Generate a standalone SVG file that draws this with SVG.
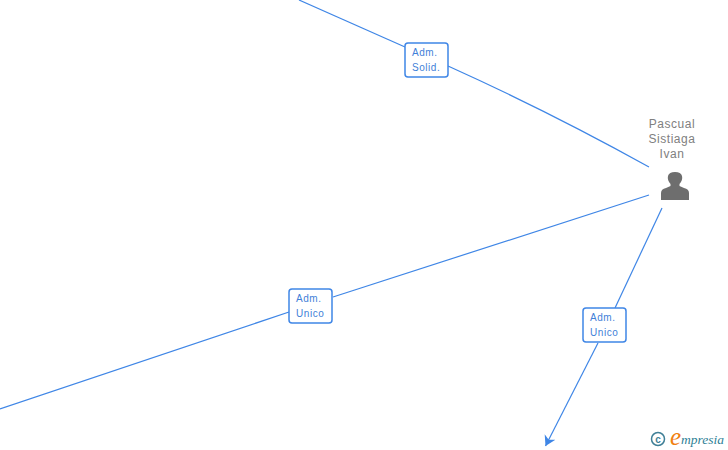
<svg xmlns="http://www.w3.org/2000/svg" width="728" height="450" viewBox="0 0 728 450">
<style>
.c{fill:none;stroke:#3f86e6;stroke-width:1.2}
.b{fill:#fff;stroke:#3f86e6;stroke-width:1.500}
.l{font:10px "Liberation Sans",Arial,sans-serif;fill:#3f7fd8;letter-spacing:.55px}
.n{font:12px "Liberation Sans",Arial,sans-serif;fill:#808080;text-anchor:middle;letter-spacing:.55px}
</style>
<defs>
<marker id="a" markerUnits="userSpaceOnUse" markerWidth="12" markerHeight="14" refX="10" refY="6" orient="auto"><path d="M0 0L10 6L0 12L3 6Z" fill="#3f86e6"/></marker>
</defs>
<rect width="728" height="450" fill="#fff"/>
<g id="connectors">
<path class="c" d="M299 0L405 47"/>
<path class="c" d="M448 66Q550 112 649 167"/>
<path class="c" d="M649 195L333 297"/>
<path class="c" d="M289 312L0 409"/>
<path class="c" d="M662 208L615 308"/>
<path class="c" d="M598 343L545.500 446" marker-end="url(#a)"/>
</g>
<g id="edge-adm-solid">
<rect class="b" x="405" y="43" width="43" height="34" rx="3"/>
<text class="l" x="412" y="56">Adm.</text><text class="l" x="412" y="71">Solid.</text>
</g>
<g id="edge-adm-unico-1">
<rect class="b" x="289" y="289" width="43" height="34" rx="3"/>
<text class="l" x="296" y="302">Adm.</text><text class="l" x="296" y="317">Unico</text>
</g>
<g id="edge-adm-unico-2">
<rect class="b" x="583" y="308" width="43" height="34" rx="3"/>
<text class="l" x="590" y="321">Adm.</text><text class="l" x="590" y="336">Unico</text>
</g>
<g id="person">
<text class="n" x="672" y="128">Pascual</text>
<text class="n" x="672" y="143">Sistiaga</text>
<text class="n" x="672" y="158">Ivan</text>
<path fill="#6e6e6e" d="M661 200V193Q661 189 666 188L670.500 186V184Q667 180 668 176Q669 172 675 172Q681 172 682 176Q683 180 679.500 184V186L684 188Q689 189 689 193V200Z"/>
</g>
<g id="logo">
<circle cx="658" cy="439" r="6.500" fill="none" stroke="#3f7f96" stroke-width="1.500"/>
<text x="658" y="442.500" font-family="Liberation Sans,sans-serif" font-size="10" font-weight="bold" fill="#3f7f96" text-anchor="middle">c</text>
<text x="670" y="445" font-family="Liberation Serif,serif" font-style="italic" font-size="25" fill="#f08010">e</text>
<text x="681" y="444" font-family="Liberation Serif,serif" font-style="italic" font-size="13.500" fill="#2f7f96">mpresia</text>
</g>
</svg>
